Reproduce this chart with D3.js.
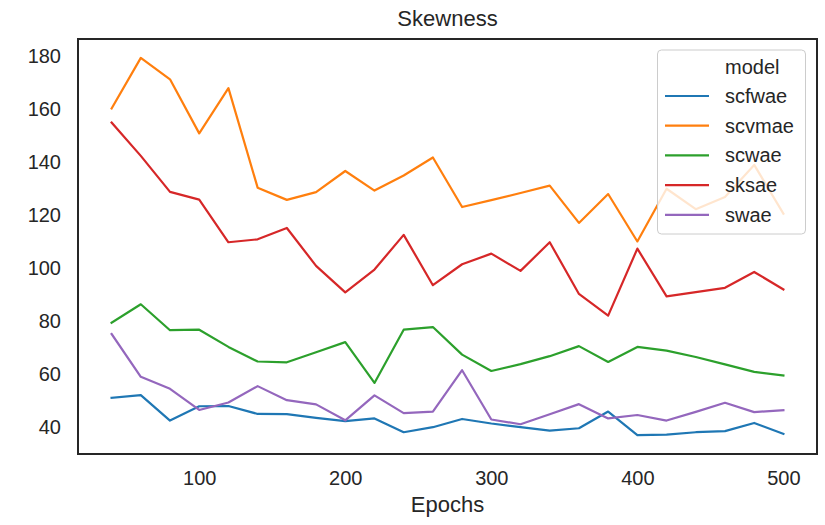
<!DOCTYPE html>
<html>
<head>
<meta charset="utf-8">
<script src="https://cdn.jsdelivr.net/npm/d3@7"></script>
<style>
  body { margin: 0; background: #fff; }
  svg { display: block; font-family: "Liberation Sans", Arial, sans-serif; }
</style>
</head>
<body>
<div id="chart"></div>
<script>
// epochs on the x axis
const epochs = [40, 60, 80, 100, 120, 140, 160, 180, 200, 220, 240, 260,
                280, 300, 320, 340, 360, 380, 400, 420, 440, 460, 480, 500];

const models = ['scfwae', 'scvmae', 'scwae', 'sksae', 'swae'];

const scfwae = [51.1, 52.1, 42.5, 47.9, 48.0, 45.0, 44.9, 43.5, 42.3, 43.3, 38.1, 40.0,
                43.1, 41.4, 40.0, 38.7, 39.6, 45.9, 37.0, 37.2, 38.1, 38.5, 41.6, 37.5];
const scvmae = [160.3, 179.4, 171.3, 150.9, 168.0, 130.4, 125.8, 128.7, 136.7, 129.3, 135.0, 141.8,
                123.1, 125.7, 128.4, 131.2, 117.1, 128.0, 110.1, 130.0, 122.3, 126.9, 139.0, 120.6];
const scwae  = [79.4, 86.4, 76.6, 76.8, 70.3, 64.8, 64.5, 68.3, 72.1, 56.7, 76.8, 77.8,
                67.4, 61.2, 63.8, 66.8, 70.6, 64.6, 70.3, 68.9, 66.5, 63.7, 60.9, 59.5];
const sksae  = [155.0, 142.4, 128.8, 125.9, 109.8, 110.9, 115.2, 100.9, 90.9, 99.5, 112.6, 93.6,
                101.5, 105.5, 99.0, 109.8, 90.3, 82.1, 107.4, 89.4, 91.0, 92.6, 98.6, 92.0];
const swae   = [75.2, 59.0, 54.5, 46.5, 49.3, 55.5, 50.2, 48.6, 42.6, 52.0, 45.3, 45.9,
                61.5, 42.9, 41.1, 44.9, 48.7, 43.3, 44.6, 42.5, 45.8, 49.2, 45.7, 46.4];

const xTicks = [100, 200, 300, 400, 500];
const yTicks = [40, 60, 80, 100, 120, 140, 160, 180];

const colors = ['#1f77b4', '#ff7f0e', '#2ca02c', '#d62728', '#9467bd'];

const series = [scfwae, scvmae, scwae, sksae, swae].map((vals, k) => ({
    name: models[k],
    color: colors[k],
    points: vals.map((v, i) => ({ x: epochs[i], y: v }))
}));

const W = 825, H = 525;
const margin = { top: 39, right: 8, bottom: 71, left: 78 };
const width = W - margin.left - margin.right;
const height = H - margin.top - margin.bottom;
const ink = '#262626';

const svg = d3.select('#chart').append('svg')
    .attr('width', W)
    .attr('height', H);

const g = svg.append('g')
    .attr('transform', `translate(${margin.left},${margin.top})`);

// matplotlib style 5% padding on both axes
const xExt = d3.extent(epochs);
const xPad = (xExt[1] - xExt[0]) * 0.05;
const allY = series.flatMap(s => s.points.map(p => p.y));
const yExt = d3.extent(allY);
const yPad = (yExt[1] - yExt[0]) * 0.05;

const xScale = d3.scaleLinear()
    .domain([xExt[0] - xPad, xExt[1] + xPad])
    .range([0, width]);

const yScale = d3.scaleLinear()
    .domain([yExt[0] - yPad, yExt[1] + yPad])
    .range([height, 0]);

// axes (no tick marks, just labels)
const xAxisG = g.append('g')
    .attr('transform', `translate(0,${height})`)
    .call(d3.axisBottom(xScale).tickValues(xTicks).tickSize(0).tickPadding(17));
const yAxisG = g.append('g')
    .call(d3.axisLeft(yScale).tickValues(yTicks).tickSize(0).tickPadding(17));

[xAxisG, yAxisG].forEach(a => {
    a.select('.domain').remove();
    a.selectAll('text')
        .style('font-size', '20px')
        .style('fill', ink)
        .style('font-family', '"Liberation Sans", Arial, sans-serif');
});

// lines
const line = d3.line()
    .x(d => xScale(d.x))
    .y(d => yScale(d.y));

g.selectAll('.series')
    .data(series)
    .enter().append('path')
    .attr('class', 'series')
    .attr('d', d => line(d.points))
    .attr('fill', 'none')
    .attr('stroke', d => d.color)
    .attr('stroke-width', 2.2)
    .attr('stroke-linejoin', 'round')
    .attr('stroke-linecap', 'square');

// frame
g.append('rect')
    .attr('x', 0).attr('y', 0)
    .attr('width', width).attr('height', height)
    .attr('fill', 'none')
    .attr('stroke', ink)
    .attr('stroke-width', 2);

// title + axis label
svg.append('text')
    .attr('x', margin.left + width / 2)
    .attr('y', 26)
    .attr('text-anchor', 'middle')
    .style('font-size', '22px')
    .style('fill', ink)
    .text('Skewness');

svg.append('text')
    .attr('x', margin.left + width / 2)
    .attr('y', 512)
    .attr('text-anchor', 'middle')
    .style('font-size', '22px')
    .style('fill', ink)
    .text('Epochs');

// legend
const leg = g.append('g')
    .attr('transform', `translate(${657.5 - margin.left},${50 - margin.top})`);

leg.append('rect')
    .attr('width', 148).attr('height', 184)
    .attr('rx', 4).attr('ry', 4)
    .attr('fill', 'rgba(255,255,255,0.8)')
    .attr('stroke', '#cccccc')
    .attr('stroke-width', 1);

leg.append('text')
    .attr('x', 67.5).attr('y', 16.7)
    .attr('dy', '0.35em')
    .style('font-size', '20px')
    .style('fill', ink)
    .text('model');

const rows = leg.selectAll('.leg-row')
    .data(series)
    .enter().append('g')
    .attr('class', 'leg-row')
    .attr('transform', (d, i) => `translate(0,${46 + i * 29.7})`);

rows.append('line')
    .attr('x1', 7.5).attr('x2', 51.5)
    .attr('stroke', d => d.color)
    .attr('stroke-width', 2.2);

rows.append('text')
    .attr('x', 67.5)
    .attr('dy', '0.35em')
    .style('font-size', '20px')
    .style('fill', ink)
    .text(d => d.name);
</script>
</body>
</html>
